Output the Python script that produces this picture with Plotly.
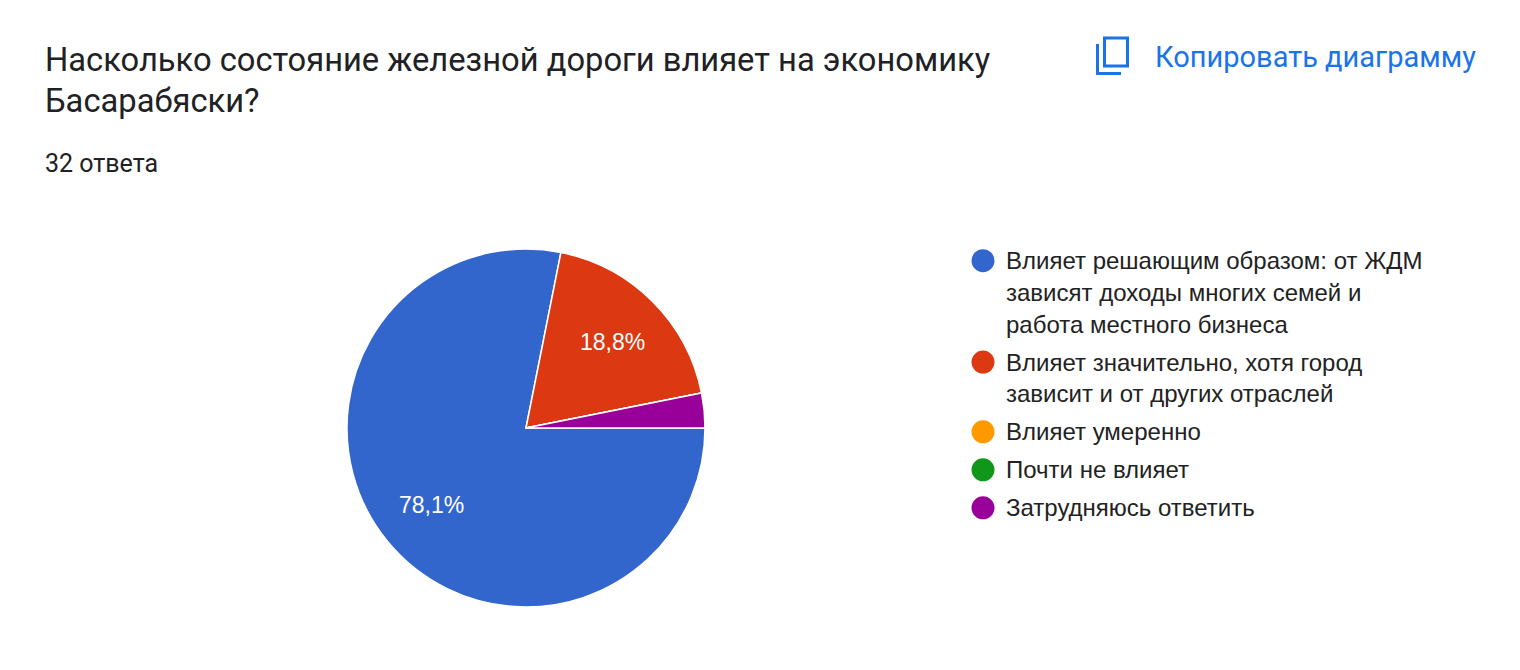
import math
import plotly.graph_objects as go

W, H = 1520, 670
OFF = 8  # page body margin

title_lines = ["Насколько состояние железной дороги влияет на экономику", "Басарабяски?"]
subtitle = "32 ответа"
copy_label = "Копировать диаграмму"

labels = [
    "Влияет решающим образом: от ЖДМ зависят доходы многих семей и работа местного бизнеса",
    "Влияет значительно, хотя город зависит и от других отраслей",
    "Влияет умеренно",
    "Почти не влияет",
    "Затрудняюсь ответить",
]
legend_lines = [
    ["Влияет решающим образом: от ЖДМ", "зависят доходы многих семей и", "работа местного бизнеса"],
    ["Влияет значительно, хотя город", "зависит и от других отраслей"],
    ["Влияет умеренно"],
    ["Почти не влияет"],
    ["Затрудняюсь ответить"],
]
values = [25, 6, 0, 0, 1]
colors = ["#3366cc", "#dc3912", "#ff9900", "#109618", "#990099"]

total = sum(values)


def px(x):
    return (x - OFF) / W


def py(y):
    return 1 - (y - OFF) / H


# pie geometry (page pixels)
PCX, PCY, PR = 526, 428, 179

fig = go.Figure()
fig.add_trace(go.Pie(
    labels=labels,
    values=values,
    textinfo="none",
    marker=dict(colors=colors, line=dict(color="white", width=1.5)),
    sort=False,
    direction="clockwise",
    rotation=90,
    showlegend=False,
    hoverinfo="label+percent",
    domain=dict(x=[px(PCX - PR), px(PCX + PR)], y=[py(PCY + PR), py(PCY - PR)]),
))

annotations = []
shapes = []

# Slice percentage labels (placed along each slice's mid-angle)
cum = 0
for v in values:
    p = v / total * 100
    mid = (cum + v / 2) / total * 2 * math.pi  # clockwise from 3 o'clock
    cum += v
    if p < 5:
        continue
    lx = PCX + 0.68 * PR * math.cos(mid)
    ly = PCY + 0.68 * PR * math.sin(mid)
    annotations.append(dict(text=f"{p:.1f}".replace(".", ",") + "%", x=px(lx), y=py(ly),
                            xref="paper", yref="paper", xanchor="center", yanchor="middle",
                            showarrow=False,
                            font=dict(family="Liberation Sans, Arial", size=23, color="white")))

# Title
title_y = [60, 101]
for t, yy in zip(title_lines, title_y):
    annotations.append(dict(text=t, x=px(43), y=py(yy), xref="paper", yref="paper",
                            xanchor="left", yanchor="middle", showarrow=False,
                            font=dict(family="Roboto", size=32.7, color="#202124")))
annotations.append(dict(text=subtitle, x=px(43), y=py(164), xref="paper", yref="paper",
                        xanchor="left", yanchor="middle", showarrow=False,
                        font=dict(family="Roboto", size=25, color="#202124")))

# Copy button
annotations.append(dict(text=copy_label, x=px(1153), y=py(57), xref="paper", yref="paper",
                        xanchor="left", yanchor="middle", showarrow=False,
                        font=dict(family="Roboto", size=29, color="#1a73e8")))
shapes.append(dict(type="rect", xref="paper", yref="paper",
                   x0=px(1104.5), x1=px(1127.5), y0=py(66), y1=py(38),
                   line=dict(color="#1a73e8", width=3), fillcolor="rgba(0,0,0,0)"))
shapes.append(dict(type="path", xref="paper", yref="paper",
                   path=f"M {px(1097.5)} {py(44)} L {px(1097.5)} {py(73.5)} L {px(1121)} {py(73.5)}",
                   line=dict(color="#1a73e8", width=3)))

# Custom legend
line_h = 31.7
gap = 38
y = 260.7
r = 11.5
cx = 983
for lines, col in zip(legend_lines, colors):
    shapes.append(dict(type="circle", xref="paper", yref="paper",
                       x0=px(cx - r), x1=px(cx + r), y0=py(y + r), y1=py(y - r),
                       fillcolor=col, line=dict(width=0)))
    for k, ln in enumerate(lines):
        annotations.append(dict(text=ln, x=px(1004), y=py(y + k * line_h), xref="paper", yref="paper",
                                xanchor="left", yanchor="middle", showarrow=False,
                                font=dict(family="Liberation Sans, Arial", size=24, color="#222222")))
    y += (len(lines) - 1) * line_h + gap

fig.update_layout(
    width=W, height=H,
    margin=dict(l=0, r=0, t=0, b=0),
    paper_bgcolor="white",
    plot_bgcolor="white",
    annotations=annotations,
    shapes=shapes,
    separators=", ",
)

fig.write_html("out.html")
